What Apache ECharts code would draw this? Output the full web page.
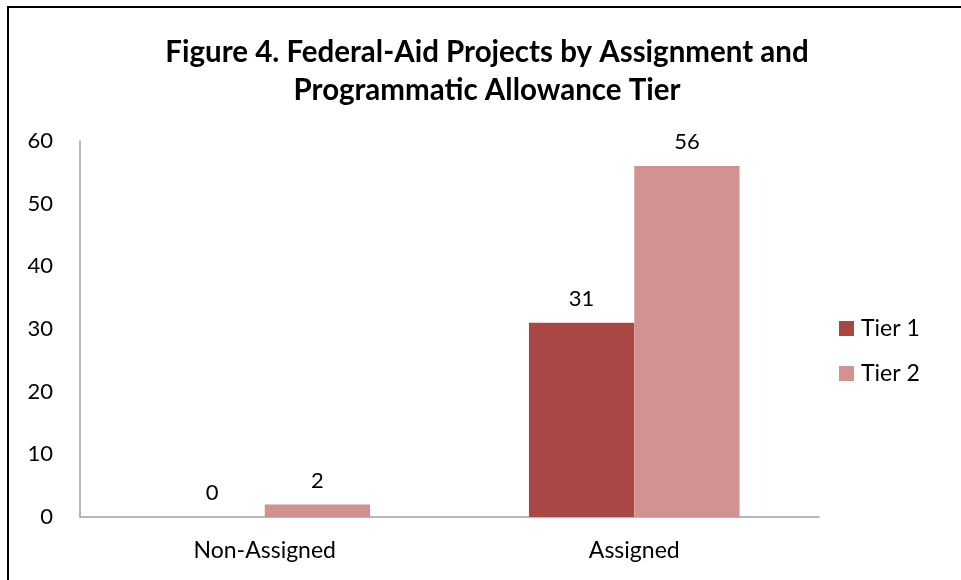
<!DOCTYPE html>
<html>
<head>
<meta charset="utf-8">
<script src="https://cdn.jsdelivr.net/npm/echarts@6/dist/echarts.min.js"></script>
<style>
html,body{margin:0;padding:0;background:#fff;}
#chart{width:961px;height:580px;}
</style>
</head>
<body>
<div id="chart"></div>
<script>
const categories = ['Non-Assigned', 'Assigned'];
const tier1 = [0, 31];
const tier2 = [2, 56];
const seriesNames = ['Tier 1', 'Tier 2'];

const FONT = 'Lato';
const chart = echarts.init(document.getElementById('chart'), null, {renderer: 'canvas'});
const labelStyle = {show: true, position: 'top', distance: 13, color: '#000', fontFamily: FONT, fontSize: 22};
chart.setOption({
  animation: false,
  backgroundColor: '#fff',
  graphic: [{
    type: 'rect',
    shape: {x: 8, y: 7, width: 1200, height: 1200},
    style: {fill: 'none', stroke: '#000', lineWidth: 2}
  }],
  title: {
    text: 'Figure 4. Federal-Aid Projects by Assignment and\nProgrammatic Allowance Tier',
    left: 482, top: 28, textAlign: 'center',
    textStyle: {fontFamily: FONT, fontWeight: 'bold', fontSize: 29.5, lineHeight: 38, color: '#000'}
  },
  legend: {
    orient: 'vertical',
    left: 834, top: 312,
    itemWidth: 15, itemHeight: 15, itemGap: 22,
    icon: 'rect',
    textStyle: {fontFamily: FONT, fontSize: 23, color: '#000', padding: [0, 0, 0, 2]},
    data: seriesNames
  },
  grid: {left: 80, right: 142, top: 141, bottom: 63, containLabel: false},
  xAxis: {
    type: 'category',
    data: categories,
    axisLine: {lineStyle: {color: '#A0A0A0', width: 1.5}},
    axisTick: {show: false},
    axisLabel: {fontFamily: FONT, fontSize: 23, color: '#000', margin: 22}
  },
  yAxis: {
    type: 'value',
    min: 0, max: 60, interval: 10,
    splitLine: {show: false},
    axisLine: {show: true, lineStyle: {color: '#A0A0A0', width: 1.5}},
    axisTick: {show: false},
    axisLabel: {fontFamily: FONT, fontSize: 22, color: '#000', margin: 27}
  },
  series: [
    {name: seriesNames[0], type: 'bar', data: tier1, barGap: '0%', barCategoryGap: '43%',
     itemStyle: {color: '#A94744'}, label: labelStyle},
    {name: seriesNames[1], type: 'bar', data: tier2, barGap: '0%', barCategoryGap: '43%',
     itemStyle: {color: '#D39292'}, label: labelStyle}
  ]
});
</script>
</body>
</html>
